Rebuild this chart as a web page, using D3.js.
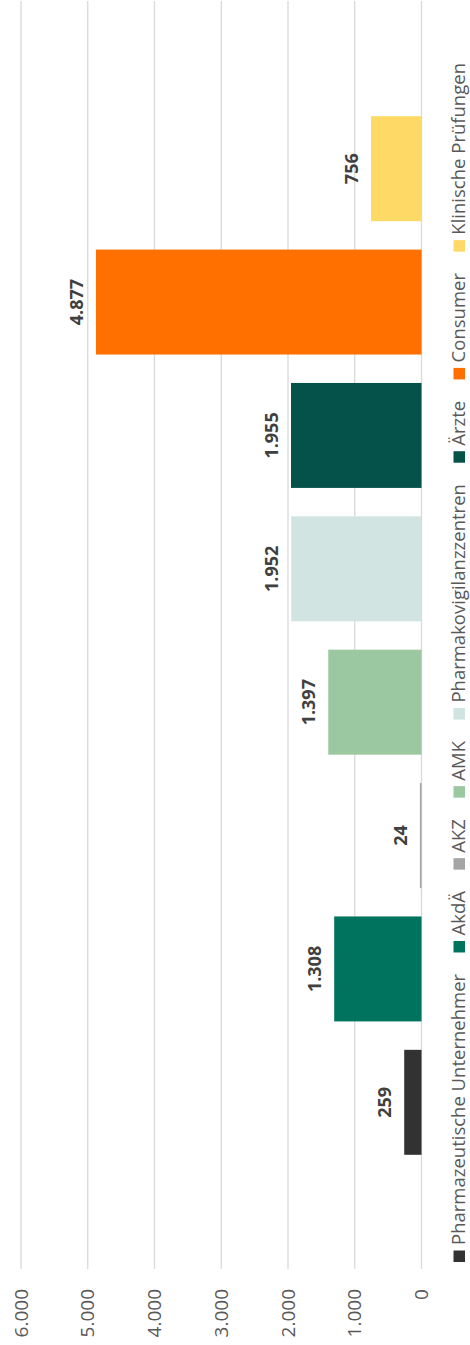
<!DOCTYPE html>
<html><head><meta charset="utf-8">
<script src="https://cdn.jsdelivr.net/npm/d3@7"></script>
<style>html,body{margin:0;padding:0;background:#fff;}svg{display:block;}</style>
</head><body>
<script>
const categories = ["Pharmazeutische Unternehmer","AkdÄ","AKZ","AMK","Pharmakovigilanzzentren","Ärzte","Consumer","Klinische Prüfungen"];
const values = [259,1308,24,1397,1952,1955,4877,756];
const colors = ["#323232","#00735F","#A5A5A5","#9BC7A1","#D1E4E1","#04524A","#FF7000","#FFD966"];
const tickValues = [0,1000,2000,3000,4000,5000,6000];

const W = 470, H = 1345;
const svg = d3.select("body").append("svg").attr("width",W).attr("height",H);
// draw in an unrotated frame (width H, height W) and rotate -90deg
const g = svg.append("g").attr("transform",`translate(0,${H}) rotate(-90)`);
const fmt = v => d3.format(",")(v).replace(/,/g,".");

const x = d3.scaleBand().domain(categories).range([176,1243]).paddingInner(0.213).paddingOuter(0.1065);
const y = d3.scaleLinear().domain([0,6000]).range([421.5,21]);

// gridlines
g.append("g").selectAll("line").data(tickValues).join("line")
  .attr("x1",76).attr("x2",1344)
  .attr("y1",d=>y(d)).attr("y2",d=>y(d))
  .attr("stroke","#D9D9D9").attr("stroke-width",1.3);

// axis labels
const ax = g.append("g").attr("transform","translate(56,0)")
  .call(d3.axisLeft(y).tickValues(tickValues).tickSize(0).tickPadding(0).tickFormat(fmt));
ax.select(".domain").remove();
ax.selectAll("text").attr("font-family","'Open Sans', sans-serif").attr("font-size",19).attr("fill","#595959");

// bars
g.append("g").selectAll("rect").data(categories).join("rect")
  .attr("x",d=>x(d)).attr("width",x.bandwidth())
  .attr("y",(d,i)=>y(values[i])).attr("height",(d,i)=>y(0)-y(values[i]))
  .attr("fill",(d,i)=>colors[i]);

// data labels
g.append("g").selectAll("text").data(categories).join("text")
  .attr("x",d=>x(d)+x.bandwidth()/2)
  .attr("y",(d,i)=>y(values[i])-13)
  .attr("text-anchor","middle")
  .attr("font-family","'Open Sans', sans-serif").attr("font-weight","bold")
  .attr("font-size",18).attr("fill","#404040")
  .text((d,i)=>fmt(values[i]));

// legend
const leg = g.append("g");
const sq = 11.5, sqGap = 5.5, start = 83, end = 1282, base = 464.5;
const items = leg.selectAll("g").data(categories).join("g");
items.append("rect").attr("width",sq).attr("height",sq).attr("y",base-sq+0.5)
  .attr("fill",(d,i)=>colors[i]);
const texts = items.append("text").attr("y",base)
  .attr("font-family","'Open Sans', sans-serif").attr("font-size",18.5).attr("fill","#595959")
  .text(d=>d);
const widths = texts.nodes().map(n=>n.getComputedTextLength());
const total = d3.sum(widths) + categories.length*(sq+sqGap);
const gap = (end-start-total)/(categories.length-1);
let pos = start;
items.each(function(d,i){
  const s = d3.select(this);
  s.select("rect").attr("x",pos);
  s.select("text").attr("x",pos+sq+sqGap);
  pos += sq+sqGap+widths[i]+gap;
});
</script>
</body></html>
